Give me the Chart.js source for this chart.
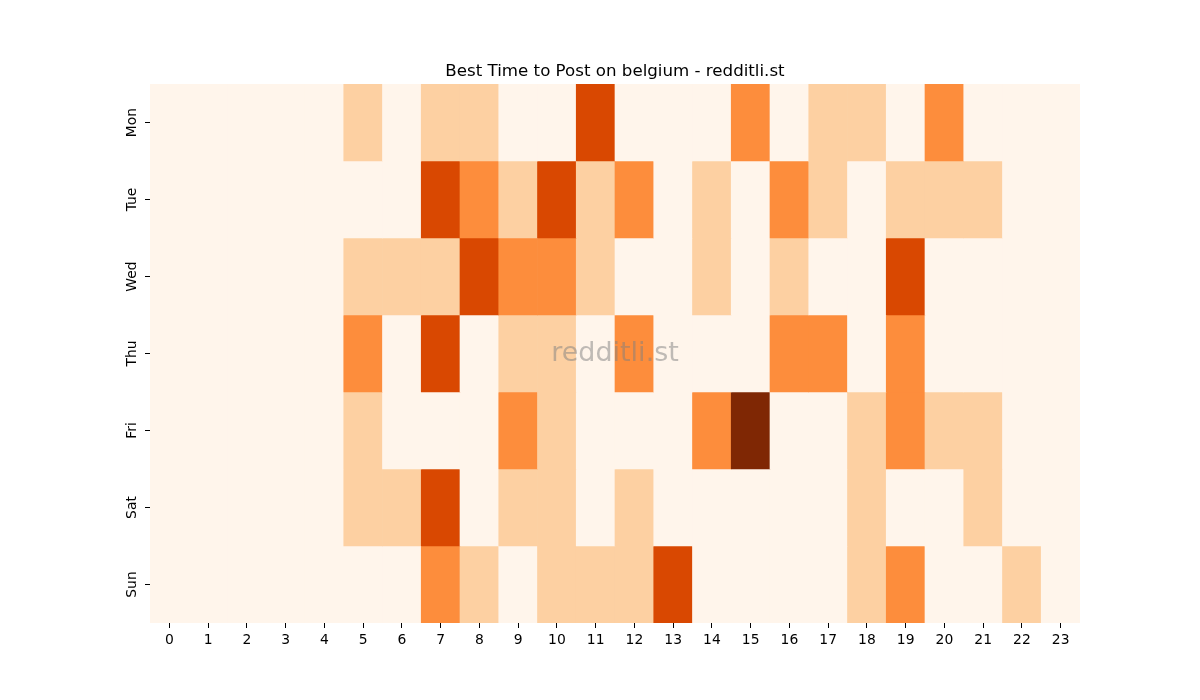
<!DOCTYPE html>
<html>
<head>
<meta charset="utf-8">
<script src="https://cdn.jsdelivr.net/npm/chart.js@4"></script>
<style>
  body { margin: 0; background: #fff; }
  #wrap { width: 1200px; height: 700px; }
</style>
</head>
<body>
<div id="wrap"><canvas id="heat" width="1200" height="700"></canvas></div>
<script>
const hours = ["0","1","2","3","4","5","6","7","8","9","10","11","12","13","14","15","16","17","18","19","20","21","22","23"];
const days = ["Mon", "Tue", "Wed", "Thu", "Fri", "Sat", "Sun"];

// activity level per hour, 0 (lowest) .. 4 (highest)
const mon = [0,0,0,0,0,1,0,1,1,0,0,3,0,0,0,2,0,1,1,0,2,0,0,0];
const tue = [0,0,0,0,0,0,0,3,2,1,3,1,2,0,1,0,2,1,0,1,1,1,0,0];
const wed = [0,0,0,0,0,1,1,1,3,2,2,1,0,0,1,0,1,0,0,3,0,0,0,0];
const thu = [0,0,0,0,0,2,0,3,0,1,1,0,2,0,0,0,2,2,0,2,0,0,0,0];
const fri = [0,0,0,0,0,1,0,0,0,2,1,0,0,0,2,4,0,0,1,2,1,1,0,0];
const sat = [0,0,0,0,0,1,1,3,0,1,1,0,1,0,0,0,0,0,1,0,0,1,0,0];
const sun = [0,0,0,0,0,0,0,2,1,0,1,1,1,3,0,0,0,0,1,2,0,0,1,0];

const palette = ["#fff5eb", "#fdd0a2", "#fd8d3c", "#d94801", "#7f2704"];
const rows = [mon, tue, wed, thu, fri, sat, sun];

const font = "'DejaVu Sans', sans-serif";

// one floating-bar dataset per day, all sharing the same hour slot
const datasets = rows.map((row, d) => ({
    label: days[d],
    data: row.map(() => [d - 0.5, d + 0.5]),
    backgroundColor: row.map(v => palette[v]),
    borderWidth: 0,
    categoryPercentage: 1,
    barPercentage: 1
}));

// grey watermark in the middle of the plot
const watermark = {
    id: "watermark",
    afterDatasetsDraw(chart) {
        const { ctx, chartArea } = chart;
        ctx.save();
        ctx.font = "27px " + font;
        ctx.fillStyle = "rgba(128,128,128,0.5)";
        ctx.textAlign = "center";
        ctx.textBaseline = "middle";
        ctx.fillText("redditli.st", (chartArea.left + chartArea.right) / 2, (chartArea.top + chartArea.bottom) / 2);
        ctx.restore();
    }
};

new Chart(document.getElementById("heat").getContext("2d"), {
    type: "bar",
    data: { labels: hours, datasets },
    plugins: [watermark],
    options: {
        responsive: false,
        animation: false,
        layout: { padding: { left: 0, right: 120, top: 62, bottom: 35 } },
        plugins: {
            legend: { display: false },
            tooltip: { enabled: false },
            title: {
                display: true,
                fullSize: false,
                text: "Best Time to Post on belgium - redditli.st",
                color: "#000",
                font: { family: font, size: 16.67, weight: "normal" },
                padding: { top: 0, bottom: 2 }
            }
        },
        scales: {
            x: {
                stacked: true,
                offset: true,
                border: { display: false },
                grid: { display: true, drawOnChartArea: false, drawTicks: true, tickLength: 5, color: "#000", offset: false },
                ticks: { color: "#000", font: { family: font, size: 13.9 }, padding: 4, maxRotation: 0 },
                afterFit(scale) { scale.height = 42; }
            },
            y: {
                stacked: false,
                reverse: true,
                min: -0.5,
                max: 6.5,
                border: { display: false },
                grid: { display: true, drawOnChartArea: false, drawTicks: true, tickLength: 5, color: "#000" },
                afterBuildTicks(scale) { scale.ticks = days.map((_, i) => ({ value: i })); },
                ticks: {
                    color: "#000",
                    font: { family: font, size: 13.9 },
                    minRotation: 90,
                    maxRotation: 90,
                    crossAlign: "center",
                    padding: -3,
                    callback: v => days[v]
                },
                afterFit(scale) { scale.width = 150; }
            }
        }
    }
});
</script>
</body>
</html>
